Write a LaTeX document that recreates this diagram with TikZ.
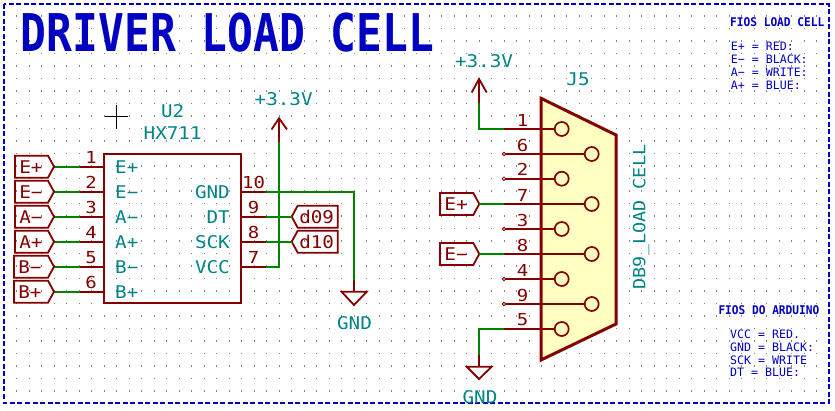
\documentclass[tikz,border=0pt]{standalone}
\usepackage{fontspec}
\newfontfamily\kf[FakeStretch=1.1]{DejaVu Sans Mono}
\newfontfamily\kfn[FakeStretch=1.15]{DejaVu Sans Mono}
\newfontfamily\kfb[FakeStretch=0.93]{DejaVu Sans Mono Bold}
\newfontfamily\kfs[FakeStretch=1.0]{DejaVu Sans Mono}
\newfontfamily\kft[FakeStretch=0.825]{DejaVu Sans Mono Bold}
\definecolor{kteal}{RGB}{0,132,132}
\definecolor{kred}{RGB}{132,0,0}
\definecolor{kgreen}{RGB}{0,132,0}
\definecolor{kblue}{RGB}{0,0,194}
\definecolor{kyellow}{RGB}{255,255,194}
\tikzset{
  x=1pt,y=-1pt,
  txt/.style={inner sep=0pt,text=kteal,font=\kf\fontsize{17.5}{18}\selectfont},
  redtxt/.style={inner sep=0pt,text=kred,font=\kf\fontsize{17.5}{18}\selectfont},
  numtxt/.style={inner sep=0pt,text=kred,font=\kfn\fontsize{16.5}{18}\selectfont},
  small/.style={inner sep=0pt,anchor=west,text=kblue,font=\kfs\fontsize{11.6}{13}\selectfont},
  smallb/.style={inner sep=0pt,anchor=west,text=kblue,font=\kfb\fontsize{12}{14}\selectfont},
  wire/.style={draw=kgreen,line width=1.7pt},
  pinl/.style={draw=kred,line width=1.7pt},
  body/.style={draw=kred,line width=2pt},
  pinlabel/.style={draw=kred,line width=1.8pt,line join=miter},
}
% right-pointing label: #1 name, #2 left x, #3 y, #4 tip x, #5 text x, #6 text
\newcommand\rlab[6]{%
  \draw[pinlabel] (#2,#3-11) -- (#4-6,#3-11) -- (#4,#3) -- (#4-6,#3+11) -- (#2,#3+11) -- cycle;
  \coordinate (#1) at (#4,#3);
  \node[redtxt] at (#5,#3) {#6};}
% left-pointing label
\newcommand\llab[5]{%
  \draw[pinlabel] (#2,#3) -- (#2+6,#3-11) -- (#4,#3-11) -- (#4,#3+11) -- (#2+6,#3+11) -- cycle;
  \coordinate (#1) at (#2,#3);
  \node[redtxt] at (#2+25,#3) {#5};}
\begin{document}
\begin{tikzpicture}
\useasboundingbox (0,0) rectangle (835,411);
\fill[white] (0,0) rectangle (835,411);
% grid
\foreach \i in {0,...,64}{\foreach \j in {0,...,30}{
  \fill[black!48] (16.7+12.5*\i-0.6,17.2+12.5*\j-0.6) rectangle ++(1.2,-1.2);}}
% frame
\draw[kblue,line width=2pt,dash pattern=on 5pt off 2.5pt] (4,4) rectangle (828.7,403);
% title
\node[inner sep=0pt,anchor=base,text=kblue,font=\kft\fontsize{52}{53}\selectfont] (title) at (227.5,52) {DRIVER LOAD CELL};
% notes
\node[smallb] (n1) at (730,22) {FIOS LOAD CELL};
\node[small] (n2) at (730.7,46.7) {E+ = RED:};
\node[small] (n3) at (730.7,59.5) {E− = BLACK:};
\node[small] (n4) at (730.7,72.7) {A− = WRITE:};
\node[small] (n5) at (730.7,85.7) {A+ = BLUE:};
\node[smallb] (n6) at (718.3,310) {FIOS DO ARDUINO};
\node[small] (n7) at (730,334.3) {VCC = RED.};
\node[small] (n8) at (730,347.3) {GND = BLACK:};
\node[small] (n9) at (730,360) {SCK = WRITE};
\node[small] (n10) at (730,372.7) {DT = BLUE:};
% crosshair
\coordinate (chl) at (104.7,116.7); \coordinate (chr) at (128.3,116.7);
\coordinate (cht) at (116.5,105); \coordinate (chb) at (116.5,129);
\draw[black,line width=0.8pt] (chl) -- (chr) (cht) -- (chb);
% U2
\node[txt] (u2) at (172.7,110.7) {U2};
\node[txt] (hx) at (172.7,133) {HX711};
\foreach \y/\n/\t/\lx in {166.7/1/E+/E+,191.7/2/E−/E−,216.7/3/A−/A−,241.7/4/A+/A+,266.7/5/B−/B−,291.7/6/B+/B+}{
  \coordinate (pa\n) at (104,\y);
  \coordinate (pb\n) at (80,\y);
  \coordinate (pc\n) at (54,\y);
  \draw[wire] (pc\n) -- (pb\n);
  \draw[pinl] (pb\n) -- (pa\n);
  \node[numtxt] at (91,\y-9) {\n};
  \node[txt,anchor=west] at (115,\y) {\t};
}
\rlab{l1}{15}{166.7}{54}{31}{E+}
\rlab{l2}{15}{191.7}{54}{31}{E−}
\rlab{l3}{15}{216.7}{54}{31}{A−}
\rlab{l4}{15}{241.7}{54}{31}{A+}
\rlab{l5}{14}{266.7}{54}{30}{B−}
\rlab{l6}{14}{291.7}{54}{30}{B+}
\draw[body] (104,154) rectangle (240.7,303);
\foreach \y/\n/\t in {191.7/10/GND,216.7/9/DT,241.7/8/SCK,266.7/7/VCC}{
  \coordinate (qa\n) at (240.7,\y);
  \coordinate (qb\n) at (266,\y);
  \draw[pinl] (qa\n) -- (qb\n);
  \node[numtxt] at (253.5,\y-9) {\n};
  \node[txt,anchor=east] at (230,\y) {\t};
}
% U2 wires
\coordinate (gndc) at (354,191.7); \coordinate (gndw) at (354,280); \coordinate (gndp) at (354,291.7);
\draw[wire] (qb10) -- (gndc) -- (gndw);
\draw[pinl] (gndw) -- (gndp);
\draw[pinlabel] (341.5,291.7) -- (366.8,291.7) -- (354,305) -- cycle;
\node[txt] (gnd1) at (354.5,323.5) {GND};
\coordinate (vc) at (279,266.7); \coordinate (vw) at (279,141.7); \coordinate (vt) at (279,118.3);
\draw[wire] (qb7) -- (vc) -- (vw);
\draw[pinl] (vw) -- (vt);
\draw[pinlabel] (271.5,129.5) -- (vt) -- (287,129.5);
\node[txt] (v1) at (283.7,99.5) {+3.3V};
\llab{d9}{291.7}{216.7}{337.7}{d09}
\llab{d10}{291.7}{241.7}{337.7}{d10}
\draw[wire] (qb9) -- (d9);
\draw[wire] (qb8) -- (d10);
% J5
\node[txt] (j5) at (578,79) {J5};
\draw[draw=kred,line width=3pt,fill=kyellow,line join=miter] (541,98.3) -- (616,135) -- (616,324) -- (541,360) -- cycle;
\node[txt,rotate=90,font=\kf\fontsize{16.8}{18}\selectfont] (db) at (641,217) {DB9\_LOAD CELL};
\foreach \y/\n/\c in {129/1/561.7,154/6/591.7,178.7/2/561.7,204/7/591.7,229/3/561.7,254/8/591.7,279/4/561.7,304/9/591.7,329/5/561.7}{
  \node[circle,draw=kred,line width=1.7pt,minimum size=14pt,inner sep=0pt] (c\n) at (\c,\y) {};
  \coordinate (jp\n) at (504,\y);
  \draw[pinl] (jp\n) -- (c\n.west);
  \node[numtxt] at (522.7,\y-9) {\n};
}
\foreach \n in {6,2,3,4,9}{\node[circle,draw=kred,line width=0.8pt,fill=white,minimum size=3.6pt,inner sep=0pt] at (jp\n) {};}
\coordinate (v2c) at (479,129); \coordinate (v2w) at (479,103); \coordinate (v2t) at (479,79);
\draw[wire] (jp1) -- (v2c) -- (v2w);
\draw[pinl] (v2w) -- (v2t);
\draw[pinlabel] (471.7,92.5) -- (v2t) -- (486.7,92.5);
\node[txt] (v2) at (484,61.5) {+3.3V};
\rlab{e1}{440}{204}{479.3}{456}{E+}
\rlab{e2}{440}{254}{479.3}{456}{E−}
\draw[wire] (e1) -- (jp7);
\draw[wire] (e2) -- (jp8);
\coordinate (g2c) at (479,329); \coordinate (g2w) at (479,355); \coordinate (g2t) at (479,366.7);
\draw[wire] (jp5) -- (g2c) -- (g2w);
\draw[pinl] (g2w) -- (g2t);
\draw[pinlabel] (466.7,366.7) -- (491.7,366.7) -- (479,379) -- cycle;
\node[txt] (gnd2) at (480,397) {GND};
\end{tikzpicture}
\end{document}
